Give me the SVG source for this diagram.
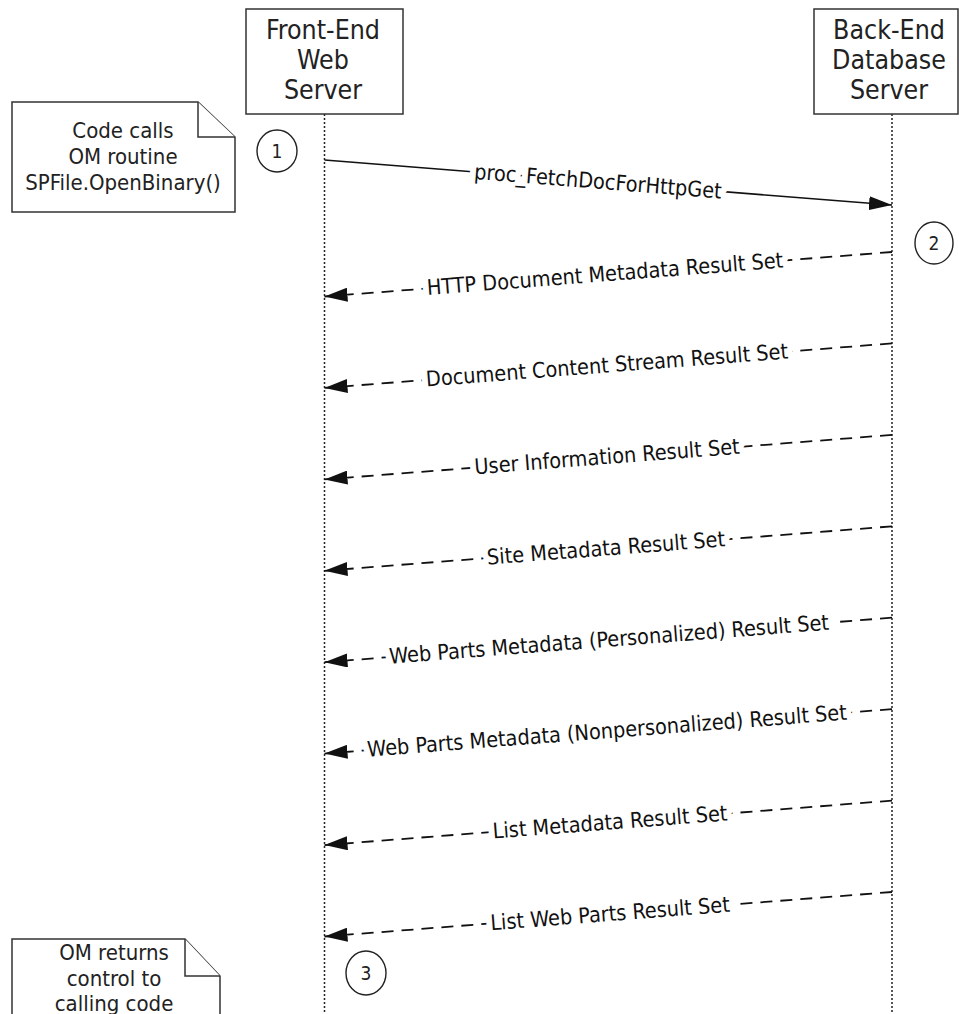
<svg xmlns="http://www.w3.org/2000/svg" width="959" height="1014" viewBox="0 0 959 1014">
<style>
  .box { fill: #fff; stroke: #333; stroke-width: 1.5; }
  .note { fill: #fff; stroke: #333; stroke-width: 1.5; stroke-linejoin: miter; }
  text { font-family: "DejaVu Sans Condensed", "DejaVu Sans", Verdana, sans-serif; font-stretch: condensed; fill: #222; text-anchor: middle; }
  .hdr { font-size: 26.5px; }
  .ntxt { font-size: 22px; }
  .num { font-size: 19px; }
  .lbl { font-size: 21.5px; fill: #111; stroke: #fff; stroke-width: 12px; stroke-linejoin: round; paint-order: stroke; }
  .life { stroke: #222; stroke-width: 1.5; stroke-dasharray: 2 2; fill: none; }
  .call { stroke: #111; stroke-width: 1.6; fill: none; marker-end: url(#ah); }
  .ret { stroke: #111; stroke-width: 1.8; fill: none; stroke-dasharray: 12 8; marker-end: url(#ah); }
  .circ { fill: #fff; stroke: #222; stroke-width: 1.4; }
</style>
<defs>
  <marker id="ah" viewBox="0 0 23 14" refX="23" refY="7" markerWidth="23" markerHeight="14" markerUnits="userSpaceOnUse" orient="auto">
    <path d="M0,0 L23,7 L0,14 z" fill="#111"/>
  </marker>
</defs>
<rect width="959" height="1014" fill="#fff"/>

<g id="lifelines">
  <line class="life" x1="324.5" y1="114" x2="324.5" y2="1014"/>
  <line class="life" x1="892" y1="114" x2="892" y2="1014"/>
</g>

<g id="front-end">
  <rect class="box" x="246" y="9" width="157" height="105"/>
  <text class="hdr" x="323" y="39">Front-End</text>
  <text class="hdr" x="323" y="69">Web</text>
  <text class="hdr" x="323" y="99">Server</text>
</g>

<g id="back-end">
  <rect class="box" x="814" y="9" width="144" height="105"/>
  <text class="hdr" x="889" y="39">Back-End</text>
  <text class="hdr" x="889" y="69">Database</text>
  <text class="hdr" x="889" y="99">Server</text>
</g>

<g id="note1">
  <path class="note" d="M12,102 L198,102 L235,137 L235,212 L12,212 Z"/>
  <path class="note" d="M198,102 L198,137 L235,137" fill="none"/>
  <text class="ntxt" x="123" y="138">Code calls</text>
  <text class="ntxt" x="123" y="164">OM routine</text>
  <text class="ntxt" x="123" y="190">SPFile.OpenBinary()</text>
</g>

<g id="note3">
  <path class="note" d="M12,1016 L12,939 L185,939 L220,976 L220,1016"/>
  <path class="note" d="M185,939 L185,976 L220,976" fill="none"/>
  <text class="ntxt" x="114" y="960">OM returns</text>
  <text class="ntxt" x="114" y="986">control to</text>
  <text class="ntxt" x="114" y="1011">calling code</text>
</g>

<g id="step1">
  <ellipse class="circ" cx="277" cy="151" rx="20" ry="21"/>
  <text class="num" x="277" y="158">1</text>
</g>
<g id="step2">
  <ellipse class="circ" cx="934" cy="243" rx="19" ry="21"/>
  <text class="num" x="934" y="250">2</text>
</g>
<g id="step3">
  <ellipse class="circ" cx="366" cy="973" rx="20" ry="22"/>
  <text class="num" x="366" y="980">3</text>
</g>

<g id="connectors">
  <line class="call" x1="324.5" y1="160" x2="892" y2="205"/>
  <text class="lbl" transform="translate(598,181.7) rotate(4.53)" y="7">proc_FetchDocForHttpGet</text>

  <line class="ret" x1="892" y1="252" x2="324.5" y2="296.5"/>
  <text class="lbl" transform="translate(605,274.3) rotate(-4.43)" y="7">HTTP Document Metadata Result Set</text>

  <line class="ret" x1="892" y1="343.4" x2="324.5" y2="387.9"/>
  <text class="lbl" transform="translate(607,365.5) rotate(-4.43)" y="7">Document Content Stream Result Set</text>

  <line class="ret" x1="892" y1="434.9" x2="324.5" y2="479.4"/>
  <text class="lbl" transform="translate(607,457) rotate(-4.43)" y="7">User Information Result Set</text>

  <line class="ret" x1="892" y1="526.3" x2="324.5" y2="570.8"/>
  <text class="lbl" transform="translate(606,548.5) rotate(-4.43)" y="7">Site Metadata Result Set</text>

  <line class="ret" x1="892" y1="617.7" x2="324.5" y2="662.2"/>
  <text class="lbl" transform="translate(609,639.7) rotate(-4.43)" y="7">Web Parts Metadata (Personalized) Result Set</text>

  <line class="ret" x1="892" y1="709.1" x2="324.5" y2="753.6"/>
  <text class="lbl" transform="translate(607,731.2) rotate(-4.43)" y="7">Web Parts Metadata (Nonpersonalized) Result Set</text>

  <line class="ret" x1="892" y1="800.6" x2="324.5" y2="845.1"/>
  <text class="lbl" transform="translate(610,822.5) rotate(-4.43)" y="7">List Metadata Result Set</text>

  <line class="ret" x1="892" y1="892" x2="324.5" y2="936.5"/>
  <text class="lbl" transform="translate(610,914) rotate(-4.43)" y="7">List Web Parts Result Set</text>
</g>
</svg>
